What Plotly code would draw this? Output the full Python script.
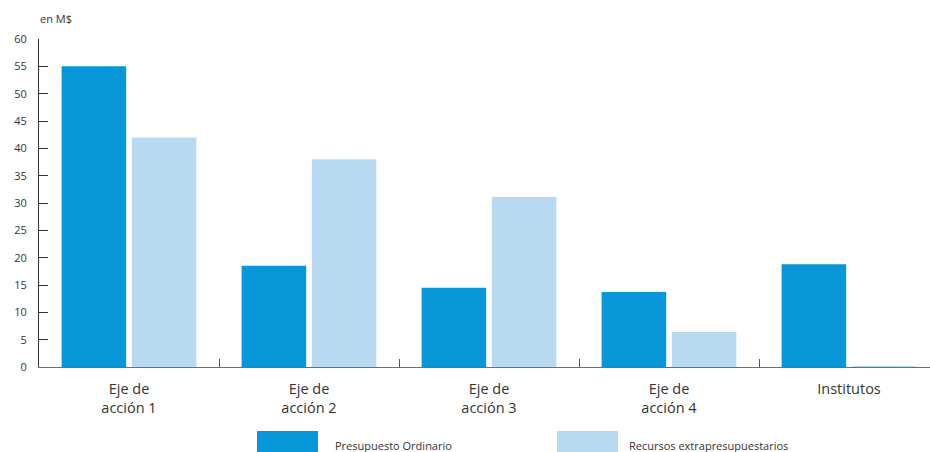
import plotly.graph_objects as go

# ---- data ----
categories = ["Eje de<br>acción 1", "Eje de<br>acción 2", "Eje de<br>acción 3",
              "Eje de<br>acción 4", "Institutos"]
presupuesto_ordinario = [55.0, 18.5, 14.5, 13.7, 18.8]
recursos_extrapresupuestarios = [42.0, 38.0, 31.1, 6.4, 0.15]
series_names = ["Presupuesto Ordinario", "Recursos extrapresupuestarios"]
y_ticks = [0, 5, 10, 15, 20, 25, 30, 35, 40, 45, 50, 55, 60]
unit_label = "en M$"

# ---- styles ----
DARK = "#0796d7"
LIGHT = "#b9d9f1"
TEXT = "#333333"
FONT = "Open Sans"
W, H = 930, 452
ML, MR, MT, MB = 39, 0, 39, 85

def px_x(p):
    return (p - ML) / (W - ML - MR)

def px_y(p):
    return (H - MB - p) / (H - MT - MB)

fig = go.Figure()
fig.add_trace(go.Bar(x=categories, y=presupuesto_ordinario, name=series_names[0],
                     marker=dict(color=DARK, line=dict(width=0)), showlegend=False))
fig.add_trace(go.Bar(x=categories, y=recursos_extrapresupuestarios, name=series_names[1],
                     marker=dict(color=LIGHT, line=dict(width=0)), showlegend=False))

fig.update_layout(
    width=W, height=H, autosize=False,
    margin=dict(l=ML, r=MR, t=MT, b=MB, pad=0),
    paper_bgcolor="white", plot_bgcolor="white",
    barmode="group", bargap=0.22, bargroupgap=0.08,
    font=dict(family=FONT, color=TEXT),
)
fig.update_xaxes(
    type="category", range=[-0.5, 4.45],
    showline=True, linecolor="#6d6e71", linewidth=1,
    ticks="inside", tickson="boundaries", ticklen=8, tickcolor="#555555", tickwidth=1,
    tickfont=dict(size=14.5, color=TEXT, family=FONT), ticklabelstandoff=9,
    showgrid=False, zeroline=False, fixedrange=True,
)
fig.update_yaxes(
    range=[0, 60], tickmode="array", tickvals=y_ticks,
    showline=True, linecolor="#333333", linewidth=1,
    ticks="inside", ticklen=9, tickcolor="#333333", tickwidth=1,
    tickfont=dict(size=11, color=TEXT, family=FONT), ticklabelstandoff=9,
    showgrid=False, zeroline=False, fixedrange=True,
)

# unit label
fig.add_annotation(text=unit_label, xref="paper", yref="paper", x=px_x(38), y=px_y(19),
                   xanchor="left", yanchor="middle", showarrow=False,
                   font=dict(size=11, color=TEXT, family=FONT))

# custom legend
legend_items = [(series_names[0], DARK, 257, 318, 333), (series_names[1], LIGHT, 557, 618, 627)]
for name, col, x0, x1, tx in legend_items:
    fig.add_shape(type="rect", xref="paper", yref="paper",
                  x0=px_x(x0), x1=px_x(x1), y0=px_y(431), y1=px_y(470),
                  fillcolor=col, line=dict(width=0), layer="above")
    fig.add_annotation(text=name, xref="paper", yref="paper", x=px_x(tx), y=px_y(445),
                       xanchor="left", yanchor="middle", showarrow=False,
                       font=dict(size=11, color=TEXT, family=FONT))

fig.write_html("out.html")
